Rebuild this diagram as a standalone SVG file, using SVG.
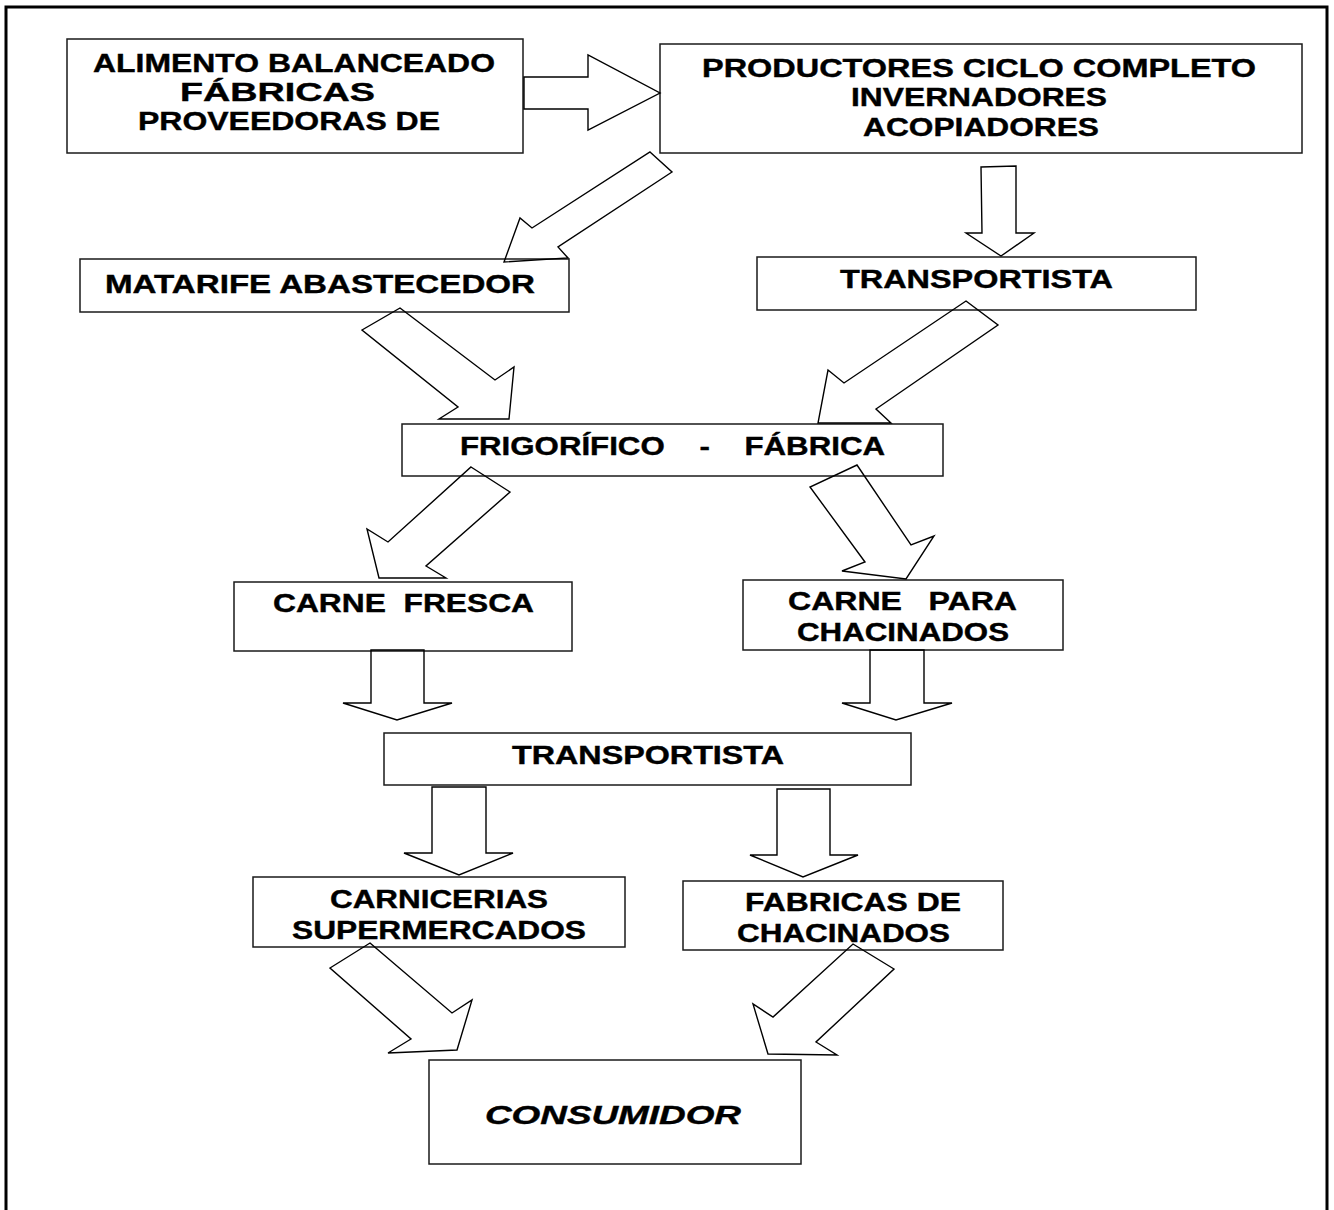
<svg xmlns="http://www.w3.org/2000/svg" width="1334" height="1210" viewBox="0 0 1334 1210">
<style>
.box{fill:#fff;stroke:#1a1a1a;stroke-width:1.5}
.arr{fill:none;stroke:#000;stroke-width:1.4;stroke-linejoin:miter}
.t{font-family:"Liberation Sans",Arial,sans-serif;font-weight:bold;fill:#000;stroke:#000;stroke-width:0.4;white-space:pre}
.t26{font-size:26px}
.t25{font-size:25px}
.it{font-style:italic}
</style>
<rect width="1334" height="1210" fill="#fff"/>
<path d="M6,1210 V7 H1327 V1210" fill="none" stroke="#000" stroke-width="3"/>

<g id="n-alimento">
<rect class="box" x="67" y="39" width="456" height="114"/>
<text class="t t26" x="93" y="72" textLength="402" lengthAdjust="spacingAndGlyphs">ALIMENTO BALANCEADO</text>
<text class="t t26" x="180" y="101" textLength="195" lengthAdjust="spacingAndGlyphs">FÁBRICAS</text>
<text class="t t26" x="138" y="130" textLength="302" lengthAdjust="spacingAndGlyphs">PROVEEDORAS DE</text>
</g>

<g id="n-productores">
<rect class="box" x="660" y="44" width="642" height="109"/>
<text class="t t26" x="702" y="77" textLength="554" lengthAdjust="spacingAndGlyphs">PRODUCTORES CICLO COMPLETO</text>
<text class="t t26" x="851" y="106" textLength="256" lengthAdjust="spacingAndGlyphs">INVERNADORES</text>
<text class="t t26" x="863" y="136" textLength="236" lengthAdjust="spacingAndGlyphs">ACOPIADORES</text>
</g>

<g id="n-matarife">
<rect class="box" x="80" y="259" width="489" height="53"/>
<text class="t t26" x="105" y="293" textLength="430" lengthAdjust="spacingAndGlyphs">MATARIFE ABASTECEDOR</text>
</g>

<g id="n-transportista1">
<rect class="box" x="757" y="257" width="439" height="53"/>
<text class="t t25" x="840" y="288" textLength="273" lengthAdjust="spacingAndGlyphs">TRANSPORTISTA</text>
</g>

<g id="n-frigorifico">
<rect class="box" x="402" y="424" width="541" height="52"/>
<text class="t t25" x="460" y="455" textLength="425" lengthAdjust="spacingAndGlyphs">FRIGORÍFICO    -    FÁBRICA</text>
</g>

<g id="n-carnefresca">
<rect class="box" x="234" y="582" width="338" height="69"/>
<text class="t t25" x="273" y="612" textLength="261" lengthAdjust="spacingAndGlyphs">CARNE  FRESCA</text>
</g>

<g id="n-carnepara">
<rect class="box" x="743" y="580" width="320" height="70"/>
<text class="t t25" x="788" y="610" textLength="229" lengthAdjust="spacingAndGlyphs">CARNE   PARA</text>
<text class="t t25" x="797" y="641" textLength="212" lengthAdjust="spacingAndGlyphs">CHACINADOS</text>
</g>

<g id="n-transportista2">
<rect class="box" x="384" y="733" width="527" height="52"/>
<text class="t t25" x="512" y="764" textLength="272" lengthAdjust="spacingAndGlyphs">TRANSPORTISTA</text>
</g>

<g id="n-carnicerias">
<rect class="box" x="253" y="877" width="372" height="70"/>
<text class="t t25" x="330" y="908" textLength="218" lengthAdjust="spacingAndGlyphs">CARNICERIAS</text>
<text class="t t25" x="292" y="939" textLength="294" lengthAdjust="spacingAndGlyphs">SUPERMERCADOS</text>
</g>

<g id="n-fabricas">
<rect class="box" x="683" y="881" width="320" height="69"/>
<text class="t t25" x="745" y="911" textLength="216" lengthAdjust="spacingAndGlyphs">FABRICAS DE</text>
<text class="t t25" x="737" y="942" textLength="213" lengthAdjust="spacingAndGlyphs">CHACINADOS</text>
</g>

<g id="n-consumidor">
<rect class="box" x="429" y="1060" width="372" height="104"/>
<text class="t t26 it" x="485" y="1124" textLength="256" lengthAdjust="spacingAndGlyphs">CONSUMIDOR</text>
</g>

<g id="connectors">
<polygon class="arr" points="524,77 588,77 588,55 660,93 588,130 588,109 524,109"/>
<polygon class="arr" points="650,152 672,172 558,247 568,258 504,262 520,218 532,228"/>
<polygon class="arr" points="981,167 1016,166 1016,233 1034,233 1001,256 966,233 982,233"/>
<polygon class="arr" points="400,308 495,380 514,367 509,419 439,419 458,407 362,330"/>
<polygon class="arr" points="966,301 998,325 876,409 891,423 818,423 828,370 844,383"/>
<polygon class="arr" points="471,467 510,492 426,566 446,578 379,578 367,529 388,542"/>
<polygon class="arr" points="857,465 911,545 934,536 906,579 842,571 865,562 810,487"/>
<polygon class="arr" points="371,650 424,650 424,703 452,703 397,720 343,703 371,703"/>
<polygon class="arr" points="870,650 924,650 924,703 952,703 896,720 842,703 870,703"/>
<polygon class="arr" points="432,787 486,787 486,853 513,853 459,875 404,853 432,853"/>
<polygon class="arr" points="777,789 830,789 830,855 858,855 803,877 750,855 777,855"/>
<polygon class="arr" points="370,943 452,1013 472,1000 457,1050 388,1053 411,1039 330,968"/>
<polygon class="arr" points="853,944 894,969 816,1042 837,1055 768,1054 753,1004 773,1017"/>
</g>
</svg>
